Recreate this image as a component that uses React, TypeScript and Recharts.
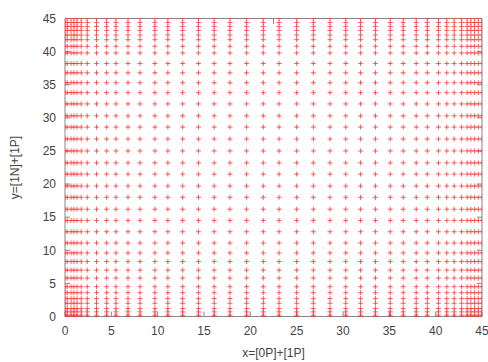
import { ScatterChart, Scatter, XAxis, YAxis } from 'recharts';

// grid node positions (dense towards both ends)
const xGrid = [
  0, 0.25, 0.65, 0.97, 1.3, 1.75, 2.4, 3.4, 4.5, 5.5, 6.8, 8.1, 9.7, 11.1, 12.7, 14.4,
  16.1, 17.8, 19.6, 21.4, 23.1, 25, 26.8, 28.6, 30.3, 31.9, 33.5, 35.1, 36.5, 37.9,
  39.1, 40.3, 41.2, 42, 42.8, 43.4, 43.8, 44.2, 44.6, 45,
];
const yGrid = [
  0, 0.2, 0.7, 1.2, 2, 2.7, 3.6, 4.5, 5.8, 7, 8.3, 9.6, 11.1, 12.8, 14.5, 16.2, 18,
  19.7, 21.5, 23.2, 25, 26.8, 28.6, 30.3, 32.1, 33.8, 35.3, 36.8, 38.2, 39.8, 40.8,
  41.8, 42.5, 43.2, 43.8, 44.4, 45,
];
const axisTicks = [0, 5, 10, 15, 20, 25, 30, 35, 40, 45];
const xLabel = 'x=[0P]+[1P]';
const yLabel = 'y=[1N]+[1P]';

const points = xGrid.flatMap((x) => yGrid.map((y) => ({ x, y })));

const FONT = '"Liberation Sans", Arial, sans-serif';
const tickStyle = { fontSize: 12, fill: '#444', fontFamily: FONT };

// small red "+" marker, gnuplot style
const Plus = (props: any) => {
  const { cx, cy } = props;
  if (cx == null || cy == null) return <g />;
  return (
    <path
      d={`M${cx - 2.5},${cy}h5M${cx},${cy - 2.5}v5`}
      stroke="#ff2a2a"
      strokeOpacity={0.75}
      strokeWidth={1}
      fill="none"
    />
  );
};

const NoTick = () => <g />;

export default function App() {
  return (
    <div style={{ position: 'absolute', left: 0, top: 0, background: '#fff' }}>
      <ScatterChart
        width={488}
        height={362}
        margin={{ top: 17.5, right: 5, bottom: 5.5, left: 0 }}
      >
        <XAxis
          xAxisId="main"
          dataKey="x"
          type="number"
          domain={[0, 45]}
          ticks={axisTicks}
          allowDataOverflow
          height={40}
          stroke="#888"
          tickSize={-5}
          tickMargin={15}
          tick={tickStyle}
          label={{
            value: xLabel,
            position: 'insideBottom',
            offset: 0,
            style: { fontSize: 12, fill: '#444', fontFamily: FONT },
          }}
        />
        <XAxis
          xAxisId="top"
          orientation="top"
          type="number"
          domain={[0, 45]}
          ticks={axisTicks}
          allowDataOverflow
          height={1}
          stroke="#888"
          tickSize={-5}
          tick={NoTick}
        />
        <YAxis
          yAxisId="main"
          dataKey="y"
          type="number"
          domain={[0, 45]}
          ticks={axisTicks}
          allowDataOverflow
          width={65}
          stroke="#888"
          tickSize={-5}
          tickMargin={14}
          tick={tickStyle}
          label={{
            value: yLabel,
            angle: -90,
            position: 'insideLeft',
            offset: 15,
            style: { fontSize: 12, fill: '#444', fontFamily: FONT, textAnchor: 'middle' },
          }}
        />
        <YAxis
          yAxisId="right"
          orientation="right"
          type="number"
          domain={[0, 45]}
          ticks={axisTicks}
          allowDataOverflow
          width={1}
          stroke="#888"
          tickSize={-5}
          tick={NoTick}
        />
        <Scatter
          data={points}
          xAxisId="main"
          yAxisId="main"
          shape={Plus}
          isAnimationActive={false}
        />
        <Scatter
          data={points.slice(0, 1)}
          xAxisId="top"
          yAxisId="right"
          shape={NoTick}
          isAnimationActive={false}
        />
      </ScatterChart>
    </div>
  );
}
